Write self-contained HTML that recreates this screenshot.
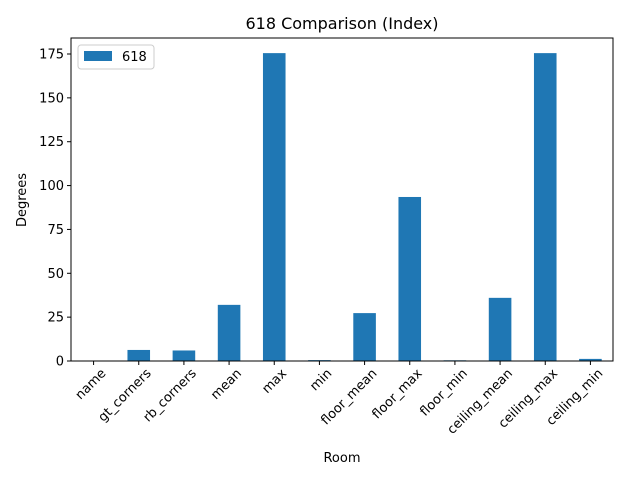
<!DOCTYPE html>
<html><head><meta charset="utf-8"><style>
body{margin:0;background:#fff;}
text{font-family:"DejaVu Sans","Liberation Sans",sans-serif;fill:#000;}
</style></head><body>
<svg id="chart" width="640" height="480" xmlns="http://www.w3.org/2000/svg">
<rect width="640" height="480" fill="#fff"/>
<text x="342" y="29" font-size="16" text-anchor="middle">618 Comparison (Index)</text>
<text x="342" y="462" font-size="13" text-anchor="middle">Room</text>
<text x="26" y="200" font-size="13" text-anchor="middle" transform="rotate(-90 26 200)">Degrees</text>
<g id="bars"></g><g id="yticks"></g><g id="xticks"></g>
<rect x="71" y="38" width="542" height="323" fill="none" stroke="#000" stroke-width="1"/>
<g>
<rect x="78" y="45" width="76" height="24" fill="#fff" stroke="#ccc" rx="3"/>
<rect x="84" y="51" width="28" height="10" fill="#1f77b4"/>
<text x="122" y="61" font-size="13">618</text>
</g>
</svg>
<script>
const categories=["name","gt_corners","rb_corners","mean","max","min","floor_mean","floor_max","floor_min","ceiling_mean","ceiling_max","ceiling_min"];
const values=[0,6.3,6,32,175.5,0.5,27.3,93.5,0.4,36,175.5,1.2];
const yTicks=[0,25,50,75,100,125,150,175];
const NS="http://www.w3.org/2000/svg";
const x0=71,x1=613,y0=361,yTop=38;
const band=(x1-x0)/categories.length;
function xC(i){return x0+band*(i+0.5);}
function yS(v){return y0-v*(307/175);}
const bars=document.getElementById('bars');
values.forEach((v,i)=>{
const r=document.createElementNS(NS,'rect');
r.setAttribute('x',xC(i)-band*0.25);r.setAttribute('width',band*0.5);
r.setAttribute('y',yS(v));r.setAttribute('height',y0-yS(v));r.setAttribute('fill','#1f77b4');


bars.appendChild(r);
});
const yt=document.getElementById('yticks');
yTicks.forEach(t=>{
const y=yS(t);
const l=document.createElementNS(NS,'line');
l.setAttribute('x1',x0-4);l.setAttribute('x2',x0);l.setAttribute('y1',y);l.setAttribute('y2',y);l.setAttribute('stroke','#000');


yt.appendChild(l);
const tx=document.createElementNS(NS,'text');
tx.setAttribute('x',x0-7);tx.setAttribute('y',y+4.5);tx.setAttribute('font-size','13');tx.setAttribute('text-anchor','end');
tx.textContent=t;


yt.appendChild(tx);
});
const xt=document.getElementById('xticks');
categories.forEach((c,i)=>{
const x=xC(i);
const l=document.createElementNS(NS,'line');
l.setAttribute('x1',x);l.setAttribute('x2',x);l.setAttribute('y1',y0);l.setAttribute('y2',y0+4);l.setAttribute('stroke','#000');


xt.appendChild(l);
const tx=document.createElementNS(NS,'text');
tx.setAttribute('font-size','13');tx.setAttribute('text-anchor','end');
tx.setAttribute('transform','translate('+(x+13)+','+(y0+13)+') rotate(-45)');
tx.textContent=c;


xt.appendChild(tx);
});
</script>
</body></html>
